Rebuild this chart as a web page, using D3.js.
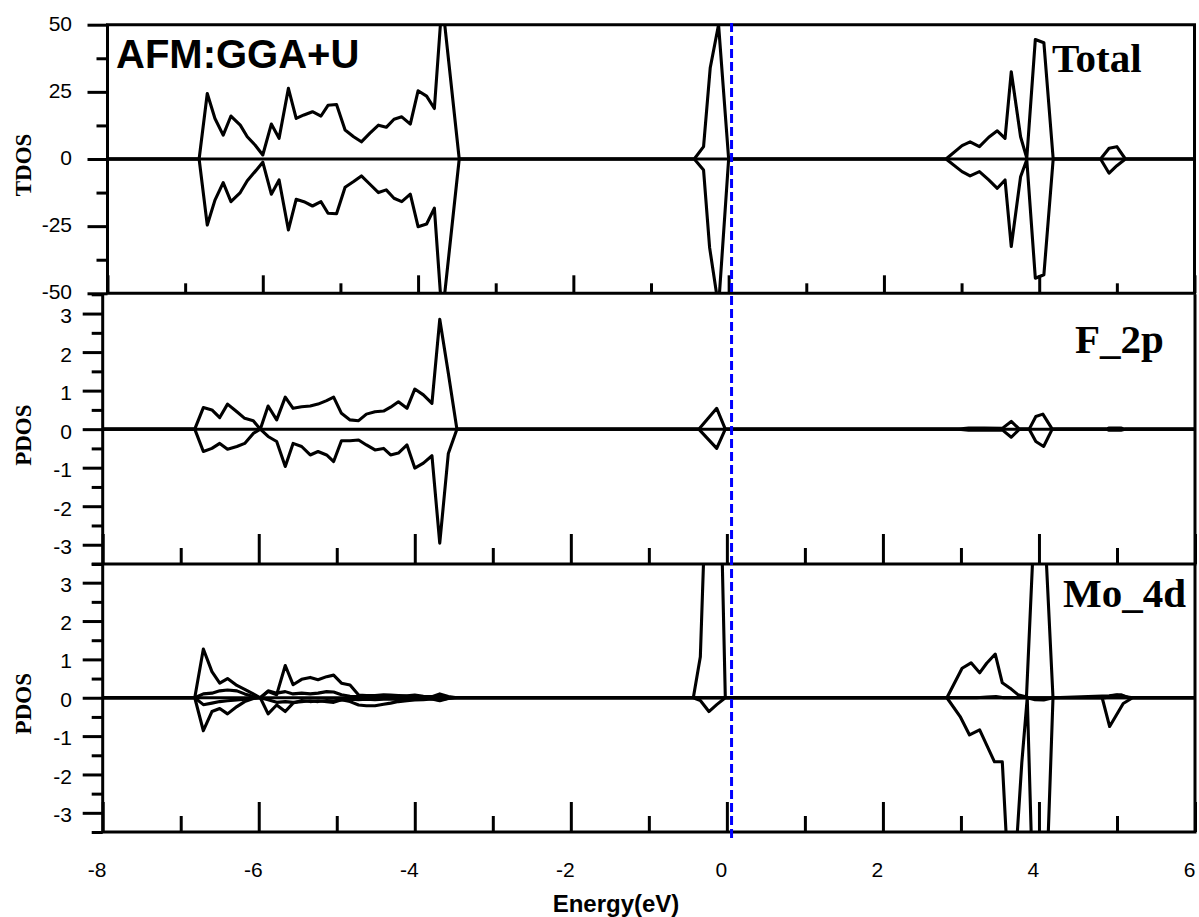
<!DOCTYPE html>
<html>
<head>
<meta charset="utf-8">
<script src="https://cdn.jsdelivr.net/npm/d3@7"></script>
<style>
  html, body { margin: 0; padding: 0; background: #fff; }
  svg { display: block; }
</style>
</head>
<body>
<svg id="chart" width="1199" height="917"></svg>
<script>
// ticks
const energyMajor = [-8, -6, -4, -2, 0, 2, 4, 6];
const energyMinor = [-7, -5, -3, -1, 1, 3, 5];
const tdosMajor = [-50, -25, 0, 25, 50];
const tdosMinor = [-37.5, -12.5, 12.5, 37.5];
const pdosMajor = [-3, -2, -1, 0, 1, 2, 3];
const pdosMinor = [-3.5, -2.5, -1.5, -0.5, 0.5, 1.5, 2.5, 3.5];
const fermiLevel = 0.06;

// [energy (eV), DOS]
const tdosUp = [[-8,0],[-6.82,0],[-6.715,24.4],[-6.616,15.1],[-6.51,8.9],[-6.41,16],[-6.29,12.6],[-6.2,8.3],[-6.1,5.2],[-6.0,1.5],
  [-5.89,13],[-5.79,7.7],[-5.67,26.3],[-5.57,15.1],[-5.47,16.4],[-5.36,17.6],[-5.25,16],[-5.16,20],[-5.05,20.3],[-4.94,10.8],
  [-4.83,8.3],[-4.73,6.4],[-4.62,9.6],[-4.51,12.6],[-4.41,11.8],[-4.31,14.8],[-4.21,15.7],[-4.1,13],[-4.0,25.4],[-3.89,23.4],
  [-3.79,18.8],[-3.69,59],[-3.47,0],[-0.443,0],[-0.323,4.6],[-0.237,34],[-0.13,50],[0.0,0],
  [2.8,0],[3.006,5.0],[3.11,6.4],[3.23,4.6],[3.35,8.1],[3.46,10.5],[3.56,7.7],[3.64,32.5],[3.76,8.3],[3.84,0.3],
  [3.95,44.5],[4.06,43.3],[4.18,0],[4.79,0],[4.9,4.0],[5.0,4.6],[5.11,0],[6,0]];
const tdosDown = [[-8,0],[-6.82,0],[-6.715,-24.6],[-6.616,-15.3],[-6.51,-8.8],[-6.41,-15.9],[-6.29,-12.5],[-6.2,-8.1],[-6.1,-4.7],[-6.0,-1.2],
  [-5.89,-13.1],[-5.79,-7.8],[-5.67,-26.4],[-5.57,-15],[-5.47,-15.9],[-5.36,-17.5],[-5.25,-15.9],[-5.16,-20.2],[-5.05,-20.4],[-4.94,-10.5],
  [-4.83,-8.4],[-4.73,-6.3],[-4.62,-9.4],[-4.51,-12.5],[-4.41,-11.5],[-4.31,-14.6],[-4.21,-15.9],[-4.1,-13.1],[-4.0,-25.2],[-3.89,-24.2],
  [-3.79,-18.3],[-3.69,-59],[-3.47,0],[-0.443,0],[-0.323,-4.1],[-0.245,-33],[-0.13,-55],[0.0,0],
  [2.8,0],[3.006,-4.7],[3.11,-6.3],[3.23,-4.7],[3.35,-7.8],[3.46,-10.9],[3.56,-7.8],[3.64,-32.6],[3.76,-6.6],[3.84,-0.3],
  [3.95,-44.4],[4.06,-43.1],[4.18,0],[4.79,0],[4.9,-5.3],[5.0,-2.5],[5.11,0],[6,0]];

const f2pUp = [[-8,0],[-6.82,0],[-6.71,0.56],[-6.6,0.5],[-6.5,0.3],[-6.4,0.65],[-6.28,0.45],[-6.18,0.28],[-6.07,0.22],[-5.98,0],
  [-5.88,0.6],[-5.77,0.24],[-5.66,0.83],[-5.56,0.54],[-5.45,0.58],[-5.34,0.6],[-5.24,0.65],[-5.13,0.74],[-5.04,0.83],[-4.94,0.41],
  [-4.83,0.24],[-4.72,0.22],[-4.62,0.39],[-4.51,0.45],[-4.4,0.47],[-4.31,0.57],[-4.21,0.71],[-4.1,0.54],[-4.0,1.04],[-3.89,0.89],
  [-3.78,0.67],[-3.68,2.85],[-3.57,1.45],[-3.46,0],[-0.36,0],[-0.13,0.54],[-0.02,0],
  [2.97,0],[3.1,0.03],[3.3,0.03],[3.53,0.02],[3.645,0.2],[3.75,0],[3.875,0],[3.96,0.33],[4.05,0.39],[4.17,0],
  [4.86,0],[4.9,0.03],[5.05,0.03],[5.1,0],[6,0]];
const f2pDown = [[-8,0],[-6.82,0],[-6.71,-0.58],[-6.6,-0.5],[-6.5,-0.37],[-6.4,-0.52],[-6.28,-0.45],[-6.18,-0.37],[-6.07,-0.11],[-5.98,0],
  [-5.88,-0.19],[-5.77,-0.32],[-5.66,-0.97],[-5.56,-0.37],[-5.45,-0.45],[-5.34,-0.67],[-5.24,-0.58],[-5.13,-0.67],[-5.04,-0.84],[-4.94,-0.3],
  [-4.83,-0.3],[-4.72,-0.28],[-4.62,-0.41],[-4.51,-0.54],[-4.4,-0.5],[-4.31,-0.67],[-4.21,-0.62],[-4.1,-0.41],[-4.0,-1.01],[-3.89,-0.88],
  [-3.78,-0.69],[-3.68,-2.96],[-3.57,-0.63],[-3.46,0],[-0.36,0],[-0.13,-0.5],[-0.02,0],
  [2.97,0],[3.1,-0.03],[3.3,-0.03],[3.53,-0.02],[3.645,-0.21],[3.75,0],[3.875,0],[3.96,-0.32],[4.06,-0.45],[4.17,0],
  [4.86,0],[4.9,-0.03],[5.05,-0.03],[5.1,0],[6,0]];

const mo4dUp = [[-8,0],[-6.82,0],[-6.71,1.27],[-6.6,0.68],[-6.5,0.38],[-6.4,0.5],[-6.28,0.32],[-6.18,0.22],[-6.07,0.1],[-5.98,0],
  [-5.88,0.16],[-5.77,0.08],[-5.66,0.84],[-5.56,0.34],[-5.45,0.48],[-5.34,0.53],[-5.24,0.47],[-5.13,0.55],[-5.04,0.59],[-4.94,0.38],
  [-4.83,0.33],[-4.72,0.07],[-4.62,0.06],[-4.51,0.06],[-4.4,0.08],[-4.31,0.07],[-4.21,0.06],[-4.1,0.05],[-4.0,0.07],[-3.89,0.04],
  [-3.78,0.03],[-3.68,0.1],[-3.57,0.03],[-3.46,0],[-0.43,0],[-0.34,1.07],[-0.23,7.7],[-0.13,10],[-0.02,0],
  [2.82,0],[3.015,0.77],[3.13,0.91],[3.24,0.65],[3.33,0.9],[3.44,1.14],[3.53,0.39],[3.63,0.25],[3.73,0.08],[3.84,0.02],
  [3.95,5],[4.06,5],[4.18,0],[4.9,0.05],[5.0,0.08],[5.1,0.03],[5.2,0],[6,0]];
const mo4dDown = [[-8,0],[-6.82,0],[-6.71,-0.86],[-6.6,-0.36],[-6.5,-0.28],[-6.4,-0.42],[-6.28,-0.23],[-6.18,-0.1],[-6.07,-0.02],[-5.98,0],
  [-5.88,-0.42],[-5.77,-0.19],[-5.66,-0.36],[-5.56,-0.14],[-5.45,-0.07],[-5.34,-0.1],[-5.24,-0.08],[-5.13,-0.1],[-5.04,-0.12],[-4.94,-0.05],
  [-4.83,-0.1],[-4.72,-0.19],[-4.62,-0.21],[-4.51,-0.21],[-4.4,-0.17],[-4.31,-0.14],[-4.21,-0.1],[-4.1,-0.08],[-4.0,-0.06],[-3.89,-0.05],
  [-3.78,-0.03],[-3.68,-0.08],[-3.57,-0.02],[-3.46,0],[-0.43,0],[-0.34,-0.07],[-0.23,-0.36],[-0.13,-0.18],[-0.02,0],
  [2.82,0],[2.99,-0.49],[3.11,-0.97],[3.24,-0.84],[3.43,-1.67],[3.53,-1.67],[3.63,-5.5],[3.72,-3.6],[3.78,-1.7],[3.85,0],
  [3.95,-7],[4.06,-7],[4.18,0],[4.81,0],[4.906,-0.75],[5.08,-0.15],[5.2,0],[6,0]];
const mo4dUp2 = [[-8,0],[-6.82,0],[-6.71,0.1],[-6.6,0.12],[-6.5,0.18],[-6.4,0.2],[-6.28,0.18],[-6.18,0.1],[-6.07,0.03],[-5.98,0],
  [-5.88,0.18],[-5.77,0.12],[-5.66,0.16],[-5.56,0.1],[-5.45,0.12],[-5.34,0.1],[-5.24,0.12],[-5.13,0.16],[-5.04,0.15],[-4.94,0.08],
  [-4.83,0.04],[-4.72,0.03],[-4.62,0.04],[-4.51,0.03],[-4.4,0.04],[-4.31,0.05],[-4.21,0.03],[-4.1,0.04],[-4.0,0.02],[-3.89,0.03],
  [-3.78,0.02],[-3.68,0.05],[-3.57,0.01],[-3.46,0],[3.2,0],[3.33,0.02],[3.45,0.03],[3.55,0],[4.85,0],[4.95,0.06],[5.05,0.08],[5.15,0],[6,0]];
const mo4dDown2 = [[-8,0],[-6.82,0],[-6.71,-0.18],[-6.6,-0.14],[-6.5,-0.1],[-6.4,-0.08],[-6.28,-0.06],[-6.18,-0.04],[-6.07,-0.01],[-5.98,0],
  [-5.88,-0.05],[-5.77,-0.12],[-5.66,-0.1],[-5.56,-0.12],[-5.45,-0.1],[-5.34,-0.08],[-5.24,-0.1],[-5.13,-0.07],[-5.04,-0.08],[-4.94,-0.06],
  [-4.83,-0.04],[-4.72,-0.05],[-4.62,-0.04],[-4.51,-0.05],[-4.4,-0.04],[-4.31,-0.03],[-4.21,-0.05],[-4.1,-0.03],[-4.0,-0.04],[-3.89,-0.02],
  [-3.78,-0.03],[-3.68,-0.06],[-3.57,-0.01],[-3.46,0],[3.85,0],[3.95,-0.05],[4.06,-0.06],[4.18,0],[6,0]];

const sans = "'Liberation Sans', Arial, sans-serif";
const serif = "'Liberation Serif', 'Times New Roman', serif";

const panels = [
  {id: "total", x0: 107.5, x1: 1194.5, y0: 24.7, y1: 293.3, domain: [-50, 50],
   major: tdosMajor, minor: tdosMinor, xMajorLen: 18, xMinorLen: 10, labelShift: -2,
   series: [tdosUp, tdosDown], ylabel: "TDOS", label: "Total", labelX: 1052, labelY: 72},
  {id: "f2p", x0: 102.7, x1: 1195, y0: 294.3, y1: 564, domain: [-3.5, 3.5],
   major: pdosMajor, minor: pdosMinor, xMajorLen: 30, xMinorLen: 16, labelShift: 1.5,
   series: [f2pUp, f2pDown], ylabel: "PDOS", label: "F_2p", labelX: 1075, labelY: 353},
  {id: "mo4d", x0: 102.7, x1: 1195, y0: 563.5, y1: 832, domain: [-3.5, 3.5],
   major: pdosMajor, minor: pdosMinor, xMajorLen: 30, xMinorLen: 16, labelShift: 1,
   series: [mo4dUp2, mo4dDown2, mo4dUp, mo4dDown], ylabel: "PDOS", label: "Mo_4d", labelX: 1063, labelY: 607}
];

const svg = d3.select("#chart");
const defs = svg.append("defs");

panels.forEach((p, i) => {
  const x = d3.scaleLinear().domain([-8, 6]).range([p.x0, p.x1]);
  const y = d3.scaleLinear().domain(p.domain).range([p.y1, p.y0]);
  p.x = x; p.y = y;

  defs.append("clipPath").attr("id", "clip-" + p.id)
    .append("rect").attr("x", p.x0).attr("y", p.y0)
    .attr("width", p.x1 - p.x0).attr("height", p.y1 - p.y0);

  const g = svg.append("g");
  const plot = g.append("g").attr("clip-path", `url(#clip-${p.id})`);

  plot.append("line")
    .attr("x1", p.x0).attr("x2", p.x1).attr("y1", y(0)).attr("y2", y(0))
    .attr("stroke", "#000").attr("stroke-width", 3);

  const line = d3.line().x(d => x(d[0])).y(d => y(d[1]));
  plot.selectAll("path.dos").data(p.series).join("path")
    .attr("class", "dos")
    .attr("d", line)
    .attr("fill", "none").attr("stroke", "#000")
    .attr("stroke-width", 3.1).attr("stroke-linejoin", "round");

  // bottom ticks point inward
  const tickStyle = sel => sel.selectAll("line").attr("stroke", "#000").attr("stroke-width", 3);
  g.append("g").attr("transform", `translate(0,${p.y1})`)
    .call(d3.axisBottom(x).tickValues(energyMajor).tickSize(-p.xMajorLen).tickFormat(""))
    .call(a => a.select(".domain").remove()).call(tickStyle);
  g.append("g").attr("transform", `translate(0,${p.y1})`)
    .call(d3.axisBottom(x).tickValues(energyMinor).tickSize(-p.xMinorLen).tickFormat(""))
    .call(a => a.select(".domain").remove()).call(tickStyle);

  // left ticks point outward
  g.append("g").attr("transform", `translate(${p.x0},0)`)
    .call(d3.axisLeft(y).tickValues(p.major).tickSize(20).tickPadding(p.x0 - 72 - 20)
      .tickFormat(d => String(d)))
    .call(a => a.select(".domain").remove()).call(tickStyle)
    .call(a => a.selectAll("text").attr("font-family", sans).attr("font-size", 21)
      .attr("fill", "#000").attr("dy", "0.36em").attr("y", p.labelShift));
  g.append("g").attr("transform", `translate(${p.x0},0)`)
    .call(d3.axisLeft(y).tickValues(p.minor).tickSize(11).tickFormat(""))
    .call(a => a.select(".domain").remove()).call(tickStyle);

  // frame
  const top = i === 0;
  g.append("path")
    .attr("d", top
      ? `M${p.x0},${p.y1}V${p.y0}H${p.x1}V${p.y1}Z`
      : `M${p.x0},${p.y0}V${p.y1}H${p.x1}V${p.y0}`)
    .attr("fill", "none").attr("stroke", "#000").attr("stroke-width", 3);

  g.append("text")
    .attr("transform", `translate(31,${(p.y0 + p.y1) / 2 + 6}) rotate(-90)`)
    .attr("text-anchor", "middle")
    .attr("font-family", serif).attr("font-weight", "bold").attr("font-size", 23)
    .text(p.ylabel);

  g.append("text")
    .attr("x", p.labelX).attr("y", p.labelY)
    .attr("font-family", serif).attr("font-weight", "bold").attr("font-size", 41)
    .text(p.label);
});

const bottom = panels[2];
svg.append("g").selectAll("text").data(energyMajor).join("text")
  .attr("x", d => bottom.x(d) - 5.5).attr("y", 877)
  .attr("text-anchor", "middle")
  .attr("font-family", sans).attr("font-size", 21)
  .text(d => String(d));

svg.append("text")
  .attr("x", 616).attr("y", 912)
  .attr("text-anchor", "middle")
  .attr("font-family", sans).attr("font-weight", "bold").attr("font-size", 24)
  .text("Energy(eV)");

svg.append("text")
  .attr("x", 116).attr("y", 68)
  .attr("font-family", sans).attr("font-weight", "bold").attr("font-size", 40)
  .text("AFM:GGA+U");

svg.append("line")
  .attr("x1", bottom.x(fermiLevel)).attr("x2", bottom.x(fermiLevel))
  .attr("y1", 23).attr("y2", 839)
  .attr("stroke", "#0000ff").attr("stroke-width", 3)
  .attr("stroke-dasharray", "9,4");
</script>
</body>
</html>
